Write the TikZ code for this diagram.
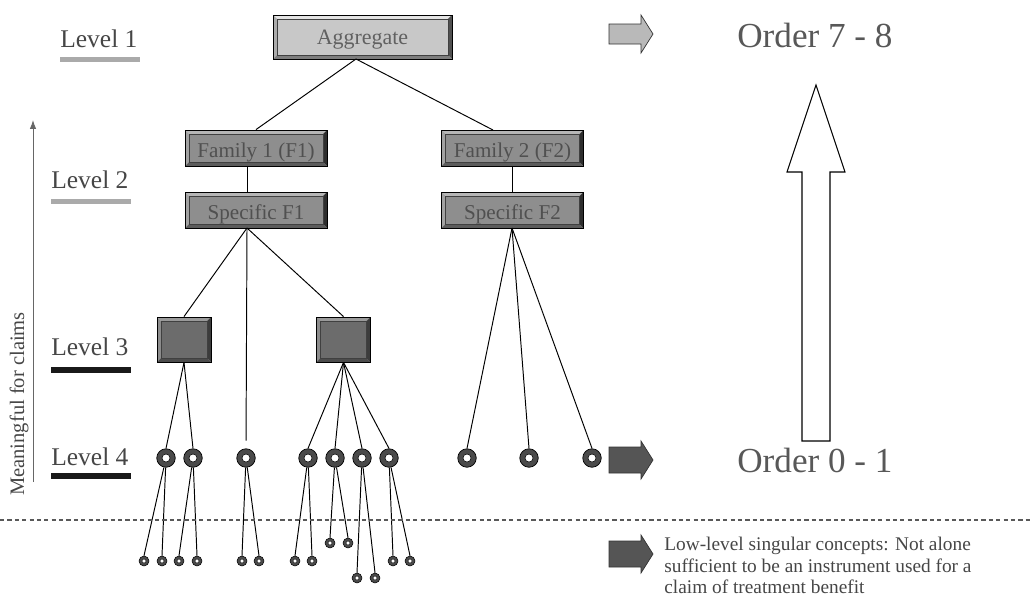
\documentclass[tikz,border=0pt]{standalone}
\usepackage{fontspec}
\setmainfont{Liberation Serif}
\usetikzlibrary{arrows.meta}
\definecolor{TextoGris}{RGB}{70, 70, 70}
\definecolor{CajaTexto}{RGB}{80, 80, 80}
\definecolor{AggRelleno}{RGB}{200, 200, 200}
\definecolor{AggArriba}{RGB}{228, 228, 228}
\definecolor{AggIzq}{RGB}{172, 172, 172}
\definecolor{AggDer}{RGB}{80, 80, 80}
\definecolor{AggAbajo}{RGB}{125, 125, 125}
\definecolor{FamRelleno}{RGB}{142, 142, 142}
\definecolor{FamArriba}{RGB}{182, 182, 182}
\definecolor{FamIzq}{RGB}{162, 162, 162}
\definecolor{FamDer}{RGB}{46, 46, 46}
\definecolor{FamAbajo}{RGB}{92, 92, 92}
\definecolor{NivRelleno}{RGB}{108, 108, 108}
\definecolor{NivArriba}{RGB}{154, 154, 154}
\definecolor{NivIzq}{RGB}{140, 140, 140}
\definecolor{NivDer}{RGB}{60, 60, 60}
\definecolor{NivAbajo}{RGB}{76, 76, 76}
\definecolor{Anillo}{RGB}{74, 74, 74}
\definecolor{BarraGris}{RGB}{170, 170, 170}
\definecolor{FlechaOscura}{RGB}{85, 85, 85}
\definecolor{FlechaClara}{RGB}{185, 185, 185}

\tikzset{
  bevelbox/.style n args={5}{draw=black, line width=0.5pt, rectangle, inner sep=0pt,
    text=CajaTexto, font=\fontsize{12}{14}\selectfont, text height=11pt, text depth=0pt,
    path picture={
      \fill[#2] (path picture bounding box.north west) -- (path picture bounding box.north east)
        -- ([shift={(-2.3pt,-2.3pt)}]path picture bounding box.north east)
        -- ([shift={(2.3pt,-2.3pt)}]path picture bounding box.north west) -- cycle;
      \fill[#3] (path picture bounding box.north west) -- (path picture bounding box.south west)
        -- ([shift={(2.3pt,2.3pt)}]path picture bounding box.south west)
        -- ([shift={(2.3pt,-2.3pt)}]path picture bounding box.north west) -- cycle;
      \fill[#4] (path picture bounding box.north east) -- (path picture bounding box.south east)
        -- ([shift={(-2.3pt,2.3pt)}]path picture bounding box.south east)
        -- ([shift={(-2.3pt,-2.3pt)}]path picture bounding box.north east) -- cycle;
      \fill[#5] (path picture bounding box.south west) -- (path picture bounding box.south east)
        -- ([shift={(-2.3pt,2.3pt)}]path picture bounding box.south east)
        -- ([shift={(2.3pt,2.3pt)}]path picture bounding box.south west) -- cycle;
      \filldraw[fill=#1, draw=black!75, line width=0.3pt]
        ([shift={(2.3pt,-2.3pt)}]path picture bounding box.north west)
        rectangle ([shift={(-2.3pt,2.3pt)}]path picture bounding box.south east);
    }},
  aggbox/.style={bevelbox={AggRelleno}{AggArriba}{AggIzq}{AggDer}{AggAbajo},
    minimum width=3.58cm, minimum height=0.88cm, text=black!62,
    font=\fontsize{12.5}{15}\selectfont, text height=9pt},
  fambox/.style={bevelbox={FamRelleno}{FamArriba}{FamIzq}{FamDer}{FamAbajo},
    minimum width=2.84cm, minimum height=0.72cm},
  nivbox/.style={bevelbox={NivRelleno}{NivArriba}{NivIzq}{NivDer}{NivAbajo},
    minimum width=1.08cm, minimum height=0.9cm},
  bigring/.style={circle, fill=Anillo, draw=black, line width=0.4pt, minimum size=0.37cm, inner sep=0pt,
    path picture={\filldraw[fill=white, draw=black, line width=0.3pt] (path picture bounding box.center) circle (0.08cm);}},
  smallring/.style={circle, fill=Anillo, draw=black, line width=0.3pt, minimum size=0.2cm, inner sep=0pt,
    path picture={\filldraw[fill=white, draw=black, line width=0.2pt] (path picture bounding box.center) circle (0.04cm);}},
  link/.style={draw=black, line width=0.55pt},
  leveltext/.style={anchor=base west, inner sep=0pt, text=TextoGris, font=\fontsize{14.5}{17}\selectfont},
  levelbar/.style={line width=3.4pt},
  ordertext/.style={anchor=base west, inner sep=0pt, text=TextoGris!90, font=\fontsize{20}{24}\selectfont},
  pics/blockarrow/.style n args={2}{code={
    \filldraw[draw=black!80, line width=0.4pt, fill=#1]
      (0,-#2) -- (32,-#2) -- (32,-19) -- (44,0) -- (32,19) -- (32,#2) -- (0,#2) -- cycle;}}
}

\begin{document}
\begin{tikzpicture}[x=0.02cm, y=-0.02cm]
  \useasboundingbox (0,0) rectangle (1030,599);

  % niveles a la izquierda
  \node[leveltext] (lev1) at (60,47) {Level 1};
  \node[leveltext] (lev2) at (51,188) {Level 2};
  \node[leveltext] (lev3) at (51,355) {Level 3};
  \node[leveltext] (lev4) at (51,465) {Level 4};
  \draw[levelbar, BarraGris] (60,59.5) -- (140,59.5);
  \draw[levelbar, BarraGris] (51,201.5) -- (131,201.5);
  \draw[levelbar, black!90] (51,370) -- (131,370);
  \draw[levelbar, black!90] (51,476) -- (131,476);

  \coordinate (claimlow) at (33,482);
  \coordinate (claimhigh) at (33,120);
  \draw[-{Latex[length=5pt,width=3.6pt]}, black!60, line width=0.5pt] (claimlow) -- (claimhigh);
  \node[rotate=90, text=TextoGris, font=\fontsize{11.7}{14}\selectfont] (claims) at (19,404) {Meaningful for claims};

  % cajas
  \node[aggbox] (agg) at (362.5,37) {Aggregate};
  \node[fambox] (fam1) at (256,148) {Family 1 (F1)};
  \node[fambox] (fam2) at (512.5,148) {Family 2 (F2)};
  \node[fambox] (spec1) at (256,210) {Specific F1};
  \node[fambox] (spec2) at (512.5,210) {Specific F2};
  \node[nivbox] (niv1) at (184,339.5) {};
  \node[nivbox] (niv2) at (343.5,339.5) {};

  \coordinate (aggfoot) at (356,59);
  \coordinate (fam2top) at (493,130);
  \coordinate (spec1foot) at (247,228);
  \coordinate (spec2foot) at (512,228);
  \draw[link] (aggfoot) -- (fam1.north);
  \draw[link] (aggfoot) -- (fam2top);
  \draw[link] ([xshift=-0.18cm]fam1.south) -- ([xshift=-0.18cm]spec1.north);
  \draw[link] (fam2.south) -- (spec2.north);
  \draw[link] (spec1foot) -- (niv1.north);
  \draw[link] (spec1foot) -- (niv2.north);

  % nivel 4
  \foreach \x [count=\i] in {166,193,246,308,335,362,389,467,529,592}
    \node[bigring] (r\i) at (\x,458) {};
  \draw[link, shorten >=4.5pt] (spec1foot) -- (r3.north);
  \foreach \i in {1,2}
    \draw[link] (niv1.south) -- (r\i.north);
  \foreach \i in {4,5,6,7}
    \draw[link] (niv2.south) -- (r\i.north);
  \foreach \i in {8,9,10}
    \draw[link] (spec2foot) -- (r\i.north);

  % conceptos sueltos
  \foreach \p/\x/\y [count=\i] in {1/144/561, 1/162/561, 2/179/561, 2/197/561,
      3/242/561, 3/259/561, 4/295/561, 4/312/561, 5/330/543, 5/348/543,
      6/357/578, 6/375/578, 7/393/561, 7/410/561}{
    \node[smallring] (s\i) at (\x,\y) {};
    \draw[link] (r\p) -- (s\i.north);
  }

  \coordinate (cutwest) at (0,520);
  \coordinate (cuteast) at (1030,520);
  \draw[black!65, line width=0.6pt, dash pattern=on 2.4pt off 1.8pt] (cutwest) -- (cuteast);

  % lado derecho
  \pic at (609,34) {blockarrow={FlechaClara}{10}};
  \pic at (609,460) {blockarrow={FlechaOscura}{13}};
  \pic at (609,554) {blockarrow={FlechaOscura}{13}};
  \node[ordertext] (ord78) at (737,47) {Order 7 - 8};
  \node[ordertext] (ord01) at (737,472) {Order 0 - 1};
  \draw[line width=0.6pt, fill=white] (802,441) -- (830,441) -- (830,172) -- (845,172)
    -- (816,85) -- (787,172) -- (802,172) -- cycle;
  \node[anchor=north west, inner sep=0pt, align=left, text=TextoGris,
    font=\fontsize{11}{12.2}\selectfont] (lowlevel) at (664,537)
    {Low-level singular concepts: Not alone\\sufficient to be an instrument used for a\\claim of treatment benefit};
\end{tikzpicture}
\end{document}
